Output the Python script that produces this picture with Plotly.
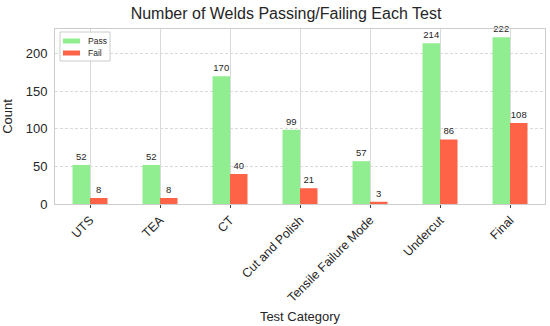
import plotly.graph_objects as go

categories = ["UTS", "TEA", "CT", "Cut and Polish", "Tensile Failure Mode", "Undercut", "Final"]
pass_counts = [52, 52, 170, 99, 57, 214, 222]
fail_counts = [8, 8, 40, 21, 3, 86, 108]
series_names = ["Pass", "Fail"]
series_colors = ["#90EE90", "#FF6347"]

font = "Liberation Sans, Arial, sans-serif"
L, R, T, B = 55, 5, 29, 122
W, H = 550, 326
pw, ph = W - L - R, H - T - B


def px_x(px):
    return (px - L) / pw


def px_y(py):
    return (H - B - py) / ph


fig = go.Figure()
for name, vals, col in zip(series_names, [pass_counts, fail_counts], series_colors):
    fig.add_trace(go.Bar(x=categories, y=vals, name=name, marker_color=col,
                         marker_line_width=0, text=vals, textposition="outside",
                         textfont=dict(size=9.5, color="#262626"), cliponaxis=False,
                         showlegend=False))

# custom legend (matplotlib-style)
shapes = [dict(type="rect", xref="paper", yref="paper",
               x0=px_x(60), x1=px_x(110), y0=px_y(61), y1=px_y(32),
               line=dict(color="#cccccc", width=1), fillcolor="rgba(255,255,255,0.85)", layer="above")]
annotations = []
for i, (name, col) in enumerate(zip(series_names, series_colors)):
    cy = 41 + 12 * i
    shapes.append(dict(type="rect", xref="paper", yref="paper",
                       x0=px_x(63), x1=px_x(80), y0=px_y(cy + 2.5), y1=px_y(cy - 2.5),
                       line=dict(width=0), fillcolor=col, layer="above"))
    annotations.append(dict(xref="paper", yref="paper", x=px_x(86), y=px_y(cy),
                            xanchor="left", yanchor="middle", text=name, showarrow=False,
                            font=dict(size=8.5, color="#262626")))

fig.update_layout(
    width=W, height=H,
    margin=dict(l=L, r=R, t=T, b=B, autoexpand=False),
    paper_bgcolor="white", plot_bgcolor="white",
    font=dict(family=font, color="#262626"),
    barmode="group", bargap=0.5, bargroupgap=0,
    title=dict(text="Number of Welds Passing/Failing Each Test", x=0.52, xanchor="center",
               yref="container", y=1 - 13 / 326, yanchor="middle", font=dict(size=16, color="#262626")),
    shapes=shapes, annotations=annotations,
    showlegend=False,
)
fig.update_xaxes(
    type="category", range=[-0.5, 6.5], tickangle=-45, tickfont=dict(size=12.5),
    showgrid=True, gridcolor="#d9d9d9", gridwidth=1,
    ticks="outside", ticklen=3, tickcolor="#444444",
    showline=True, linecolor="#cccccc", mirror=True, automargin=False,
    title=dict(text="Test Category", font=dict(size=13), standoff=8),
)
fig.update_yaxes(
    range=[0, 233.1], tickvals=[0, 50, 100, 150, 200], tickfont=dict(size=13),
    showgrid=True, gridcolor="#d9d9d9", griddash="3px,2px", zeroline=False,
    showline=True, linecolor="#cccccc", mirror=True, automargin=False,
    ticklabelstandoff=4,
    title=dict(text="Count", font=dict(size=13), standoff=12),
)

fig.write_html("out.html", config={"displayModeBar": False},
               post_script="document.body.style.margin='0';")
